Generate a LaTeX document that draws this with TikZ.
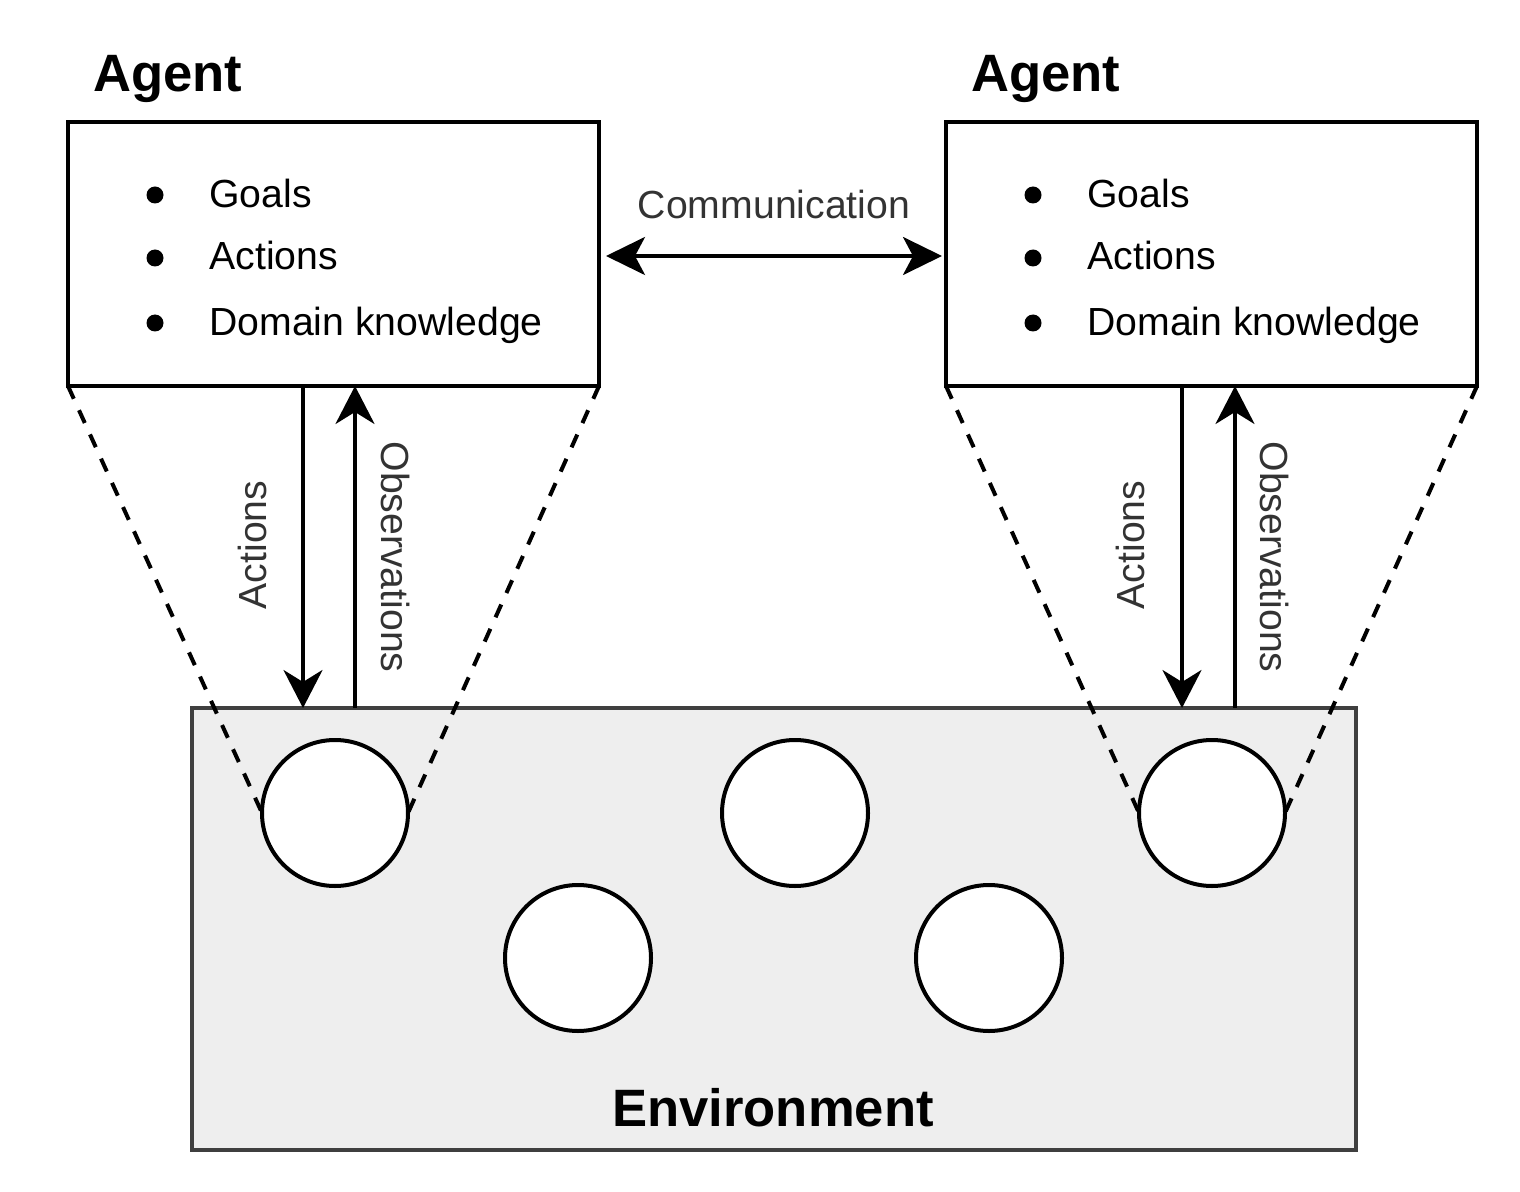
\documentclass[tikz,border=0pt]{standalone}
\usepackage{fontspec}
\setmainfont{Liberation Sans}
\usetikzlibrary{arrows.meta}
\definecolor{envfill}{HTML}{EEEEEE}
\definecolor{envline}{HTML}{3F3F3F}
\definecolor{lbl}{HTML}{333333}
\tikzset{
  agentbox/.style={draw=black, line width=2pt, fill=white, minimum width=265.5pt, minimum height=132pt, inner sep=0pt, outer sep=0pt},
  envbox/.style={draw=envline, line width=2pt, fill=envfill, minimum width=582pt, minimum height=221pt, inner sep=0pt, outer sep=0pt},
  blob/.style={circle, draw=black, line width=2pt, fill=white, minimum size=73pt, inner sep=0pt, outer sep=0pt},
  title/.style={font=\fontsize{26.3}{30}\selectfont\bfseries, inner sep=0pt, anchor=base west},
  item/.style={font=\fontsize{19.6}{23}\selectfont, inner sep=0pt, anchor=base west},
  dot/.style={circle, fill=black, minimum size=8.5pt, inner sep=0pt},
  flow/.style={line width=1.75pt, -{Stealth[length=19pt, width=19.5pt, inset=6pt]}},
  biflow/.style={line width=1.75pt, {Stealth[length=19.5pt, width=19pt, inset=5pt]}-{Stealth[length=19.5pt, width=19pt, inset=5pt]}},
  vlabel/.style={font=\fontsize{19.6}{23}\selectfont, text=lbl, inner sep=0pt},
  cone/.style={line width=2pt, dash pattern=on 7pt off 6.3pt},
}
\begin{document}
\begin{tikzpicture}[x=0.5pt, y=-0.5pt]
\useasboundingbox (0,0) rectangle (1520,1192);

% environment
\node[envbox] (env) at (774,929) {};
\node[title, anchor=base] (envt) at (773,1126) {Environment};

% agents
\node[agentbox] (agentL) at (333.5,254) {};
\node[agentbox] (agentR) at (1211.5,254) {};
\node[title] (tL) at (93,92) {Agent};
\node[title] (tR) at (971,92) {Agent};

% list items left
\node[dot] (bL1) at (155,195) {};
\node[dot] (bL2) at (155,258) {};
\node[dot] (bL3) at (155,323) {};
\node[item] (iL1) at (209,208) {Goals};
\node[item] (iL2) at (209,270) {Actions};
\node[item] (iL3) at (209,336) {Domain knowledge};
% list items right
\node[dot] (bR1) at (1033,195) {};
\node[dot] (bR2) at (1033,258) {};
\node[dot] (bR3) at (1033,323) {};
\node[item] (iR1) at (1087,208) {Goals};
\node[item] (iR2) at (1087,270) {Actions};
\node[item] (iR3) at (1087,336) {Domain knowledge};

% circles
\node[blob] (c1) at (335,813) {};
\node[blob] (c2) at (795,813) {};
\node[blob] (c3) at (1212,813) {};
\node[blob] (c4) at (578,958) {};
\node[blob] (c5) at (989,958) {};

% cones
\draw[cone] (agentL.south west) -- (c1.west);
\draw[cone] (agentL.south east) -- (c1.east);
\draw[cone] (agentR.south west) -- (c3.west);
\draw[cone] (agentR.south east) -- (c3.east);

% communication
\path (agentL.east) ++(7,2) coordinate (cl);
\path (agentR.west) ++(-4,2) coordinate (cr);
\draw[biflow] (cl) -- (cr);
\node[vlabel] (comm) at (774,204) {Communication};

% actions / observations left
\draw[flow] (agentL.south -| 303,0) -- (env.north -| 303,0);
\draw[flow] (env.north -| 355,0) -- (agentL.south -| 355,0);
\node[vlabel, rotate=90] (aL) at (252,545) {Actions};
\node[vlabel, rotate=-90] (oL) at (396,557) {Observations};

% actions / observations right
\draw[flow] (agentR.south -| 1182,0) -- (env.north -| 1182,0);
\draw[flow] (env.north -| 1235,0) -- (agentR.south -| 1235,0);
\node[vlabel, rotate=90] (aR) at (1130,545) {Actions};
\node[vlabel, rotate=-90] (oR) at (1274,557) {Observations};
\end{tikzpicture}
\end{document}
